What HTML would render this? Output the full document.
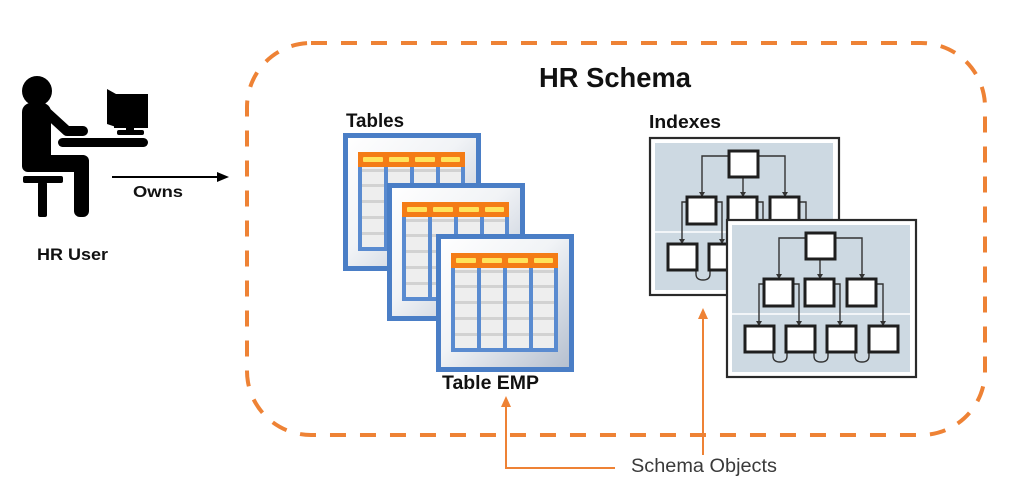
<!DOCTYPE html>
<html>
<head>
<meta charset="utf-8">
<style>
html,body{margin:0;padding:0;background:#fff;}
svg{display:block;}
text{font-family:"Liberation Sans",sans-serif;}
</style>
</head>
<body>
<svg width="1024" height="504" viewBox="0 0 1024 504" xmlns="http://www.w3.org/2000/svg">
<defs>
  <linearGradient id="tg" x1="0" y1="0" x2="1" y2="1">
    <stop offset="0" stop-color="#ffffff"/>
    <stop offset="0.45" stop-color="#f1f3f6"/>
    <stop offset="1" stop-color="#b3bece"/>
  </linearGradient>
  <g id="tbl">
    <rect x="2.5" y="2.5" width="133" height="133" fill="url(#tg)" stroke="#4a7ec6" stroke-width="5"/>
    <!-- body -->
    <rect x="15" y="34" width="107" height="84" fill="#eeeeee"/>
    <rect x="15" y="36" width="107" height="3" fill="#d2d2d2"/>
    <rect x="15" y="51" width="107" height="3" fill="#d2d2d2"/>
    <rect x="15" y="67" width="107" height="3" fill="#d2d2d2"/>
    <rect x="15" y="83" width="107" height="3" fill="#d2d2d2"/>
    <rect x="15" y="99" width="107" height="3" fill="#d2d2d2"/>
    <!-- blue grid lines -->
    <rect x="15" y="20" width="4" height="98" fill="#5a8bd0"/>
    <rect x="41" y="20" width="4" height="98" fill="#5a8bd0"/>
    <rect x="67" y="20" width="4" height="98" fill="#5a8bd0"/>
    <rect x="93" y="20" width="4" height="98" fill="#5a8bd0"/>
    <rect x="118" y="20" width="4" height="98" fill="#5a8bd0"/>
    <rect x="15" y="114" width="107" height="4" fill="#5a8bd0"/>
    <!-- header -->
    <rect x="15" y="19" width="107" height="15" fill="#f47c16"/>
    <rect x="20" y="24" width="20" height="5" rx="1" fill="#ffe35a"/>
    <rect x="46" y="24" width="20" height="5" rx="1" fill="#ffe35a"/>
    <rect x="72" y="24" width="20" height="5" rx="1" fill="#ffe35a"/>
    <rect x="98" y="24" width="19" height="5" rx="1" fill="#ffe35a"/>
  </g>
  <g id="idx">
    <!-- coordinates for index 2 (absolute) -->
    <rect x="727" y="220" width="189" height="157" fill="#ffffff" stroke="#2a2a2a" stroke-width="2.2"/>
    <rect x="732" y="225" width="178" height="147" fill="#cdd9e2"/>
    <rect x="732" y="313" width="178" height="2" fill="#f2f5f8"/>
    <g fill="none" stroke="#333" stroke-width="1.4">
      <path d="M805 238 H779 V275"/>
      <path d="M836 238 H862 V275"/>
      <path d="M820 260 V275"/>
      <path d="M763 284 H759 V322"/>
      <path d="M794 284 H799 V322"/>
      <path d="M835 284 H840 V322"/>
      <path d="M877 284 H883 V322"/>
      <path d="M773 350 V356 Q773 362 780 362 Q787 362 787 356 V350"/>
      <path d="M814 350 V356 Q814 362 821 362 Q828 362 828 356 V350"/>
      <path d="M855 350 V356 Q855 362 862 362 Q869 362 869 356 V350"/>
    </g>
    <g fill="#333">
      <polygon points="776,274 782,274 779,279"/>
      <polygon points="859,274 865,274 862,279"/>
      <polygon points="817,274 823,274 820,279"/>
      <polygon points="756,321 762,321 759,326"/>
      <polygon points="796,321 802,321 799,326"/>
      <polygon points="837,321 843,321 840,326"/>
      <polygon points="880,321 886,321 883,326"/>
    </g>
    <g fill="#ffffff" stroke="#1e1e1e" stroke-width="3">
      <rect x="806" y="233" width="29" height="26"/>
      <rect x="764" y="279" width="29" height="27"/>
      <rect x="805" y="279" width="29" height="27"/>
      <rect x="847" y="279" width="29" height="27"/>
      <rect x="745" y="326" width="29" height="26"/>
      <rect x="786" y="326" width="29" height="26"/>
      <rect x="827" y="326" width="29" height="26"/>
      <rect x="869" y="326" width="29" height="26"/>
    </g>
  </g>
</defs>

<!-- Dashed schema border -->
<rect x="247" y="43" width="738" height="392" rx="64" ry="64" fill="none" stroke="#ee8235" stroke-width="4" stroke-dasharray="16 14"/>

<!-- HR Schema title -->
<text x="539" y="87" font-size="28" font-weight="bold" fill="#111" textLength="152" lengthAdjust="spacingAndGlyphs">HR Schema</text>

<!-- User icon -->
<g fill="#000">
  <circle cx="37" cy="91" r="15"/>
  <rect x="22" y="103" width="29" height="69" rx="9"/>
  <rect x="22" y="155" width="66" height="17" rx="6"/>
  <rect x="74" y="155" width="15" height="62" rx="6"/>
  <polyline points="44,110 67,131 83,131" fill="none" stroke="#000" stroke-width="10" stroke-linecap="round" stroke-linejoin="round"/>
  <rect x="58" y="138" width="90" height="9" rx="4.5"/>
  <polygon points="107,89 116,94 116,127 107,124"/>
  <rect x="114" y="94" width="34" height="34"/>
  <rect x="126" y="127" width="8" height="4"/>
  <rect x="117" y="130" width="27" height="5" rx="2"/>
  <rect x="23" y="176" width="40" height="7" rx="2"/>
  <rect x="38" y="182" width="9" height="35" rx="2"/>
</g>
<text x="37" y="260" font-size="17" font-weight="bold" fill="#111" textLength="71" lengthAdjust="spacingAndGlyphs">HR User</text>

<!-- Owns arrow -->
<line x1="112" y1="177" x2="219" y2="177" stroke="#000" stroke-width="2"/>
<polygon points="229,177 217,172 217,182" fill="#000"/>
<text x="133" y="197" font-size="16" font-weight="bold" fill="#111" textLength="50" lengthAdjust="spacingAndGlyphs">Owns</text>

<!-- Tables -->
<text x="346" y="127" font-size="19" font-weight="bold" fill="#111" textLength="58" lengthAdjust="spacingAndGlyphs">Tables</text>
<use href="#tbl" x="343" y="133"/>
<use href="#tbl" x="387" y="183"/>
<use href="#tbl" x="436" y="234"/>
<text x="442" y="389" font-size="19" font-weight="bold" fill="#111" textLength="97" lengthAdjust="spacingAndGlyphs">Table EMP</text>

<!-- Indexes -->
<text x="649" y="128" font-size="18" font-weight="bold" fill="#111" textLength="72" lengthAdjust="spacingAndGlyphs">Indexes</text>
<use href="#idx" x="-77" y="-82"/>
<use href="#idx" x="0" y="0"/>

<!-- Schema objects connectors -->
<g stroke="#ee8235" stroke-width="2" fill="none">
  <path d="M615 468 H506 V405"/>
  <path d="M703 455 V318"/>
</g>
<polygon points="506,396 501,407 511,407" fill="#ee8235"/>
<polygon points="703,308 698,319 708,319" fill="#ee8235"/>
<text x="631" y="472" font-size="19" fill="#3a3a3a" textLength="146" lengthAdjust="spacingAndGlyphs">Schema Objects</text>
</svg>
</body>
</html>
